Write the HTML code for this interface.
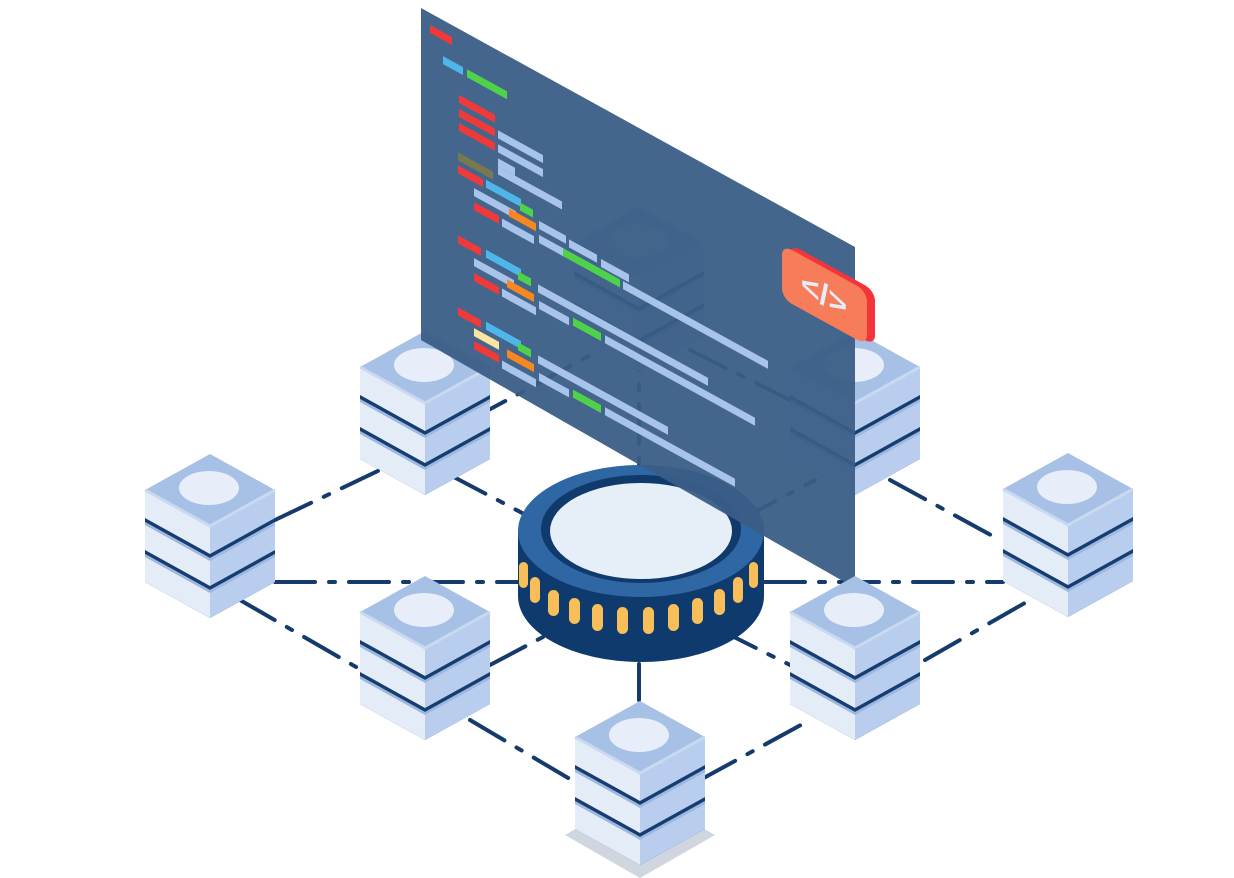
<!DOCTYPE html>
<html><head><meta charset="utf-8"><style>
html,body{margin:0;padding:0;background:#fff;width:1234px;height:878px;overflow:hidden}
svg{display:block}
</style></head><body>
<svg width="1234" height="878" viewBox="0 0 1234 878" xmlns="http://www.w3.org/2000/svg">
<defs>
<g id="srv">
  <polygon points="-65,0 0,36 65,0 65,92 0,128 -65,92" fill="#163d70"/>
  <g>
    <polygon points="-65,64 0,100 0,128 -65,92" fill="#e4ecf8"/>
    <polygon points="0,100 65,64 65,92 0,128" fill="#b9cdee"/>
    <polygon points="-65,64 0,100 65,64 65,67 0,103 -65,67" fill="#9db7df"/>
    <polygon points="-65,32 0,68 0,96 -65,60" fill="#e4ecf8"/>
    <polygon points="0,68 65,32 65,60 0,96" fill="#b9cdee"/>
    <polygon points="-65,32 0,68 65,32 65,35 0,71 -65,35" fill="#9db7df"/>
    <polygon points="-65,0 0,36 0,64 -65,28" fill="#e4ecf8"/>
    <polygon points="0,36 65,0 65,28 0,64" fill="#b9cdee"/>
  </g>
  <polygon points="0,-36 65,0 0,36 -65,0" fill="#a7c0e6"/>
  <polyline points="-65,0 0,36 65,0" fill="none" stroke="#c9d9f1" stroke-width="3"/>
  <ellipse cx="-1" cy="-2" rx="30" ry="17" fill="#e7eef9"/>
</g>
</defs>

<!-- dashed network lines -->
<g stroke="#153a6c" stroke-width="4" stroke-linecap="round" fill="none" stroke-dasharray="40 14 6 14">
  <line x1="275" y1="582" x2="520" y2="582"/>
  <line x1="765" y1="582" x2="1003" y2="582"/>
  <line x1="639" y1="330" x2="639" y2="466"/>
  <line x1="639" y1="664" x2="639" y2="700"/>
  <line x1="240" y1="600" x2="370" y2="675"/>
  <line x1="470" y1="720" x2="580" y2="785"/>
  <line x1="700" y1="780" x2="810" y2="720"/>
  <line x1="925" y1="660" x2="1030" y2="600"/>
  <line x1="890" y1="480" x2="1000" y2="540"/>
  <line x1="275" y1="520" x2="380" y2="470"/>
  <line x1="470" y1="420" x2="600" y2="350"/>
  <line x1="450" y1="475" x2="545" y2="525"/>
  <line x1="490" y1="665" x2="560" y2="628"/>
  <line x1="720" y1="630" x2="800" y2="670"/>
  <line x1="740" y1="520" x2="815" y2="480"/>
  <line x1="690" y1="350" x2="800" y2="405"/>
</g>

<!-- back servers -->
<use href="#srv" x="639" y="243"/>
<use href="#srv" x="425" y="367"/>
<use href="#srv" x="855" y="367"/>

<!-- hub -->
<path d="M518,531 L518,596 A123,66 0 0 0 764,596 L764,531 Z" fill="#0f3a6e"/>
<ellipse cx="641" cy="531" rx="123" ry="66" fill="#2f67a4"/>
<ellipse cx="641" cy="529" rx="100" ry="54" fill="#10396c"/>
<ellipse cx="641" cy="531" rx="91" ry="48" fill="#e6eef8"/>
<g fill="#f8be5a">
  <rect x="519" y="562" width="9" height="26" rx="4.5"/>
  <rect x="530" y="577" width="10" height="26" rx="5"/>
  <rect x="548" y="590" width="11" height="26" rx="5.5"/>
  <rect x="569" y="598" width="11" height="26" rx="5.5"/>
  <rect x="592" y="604" width="11" height="27" rx="5.5"/>
  <rect x="617" y="607" width="11" height="27" rx="5.5"/>
  <rect x="643" y="607" width="11" height="27" rx="5.5"/>
  <rect x="668" y="604" width="11" height="27" rx="5.5"/>
  <rect x="692" y="598" width="11" height="26" rx="5.5"/>
  <rect x="714" y="589" width="11" height="26" rx="5.5"/>
  <rect x="733" y="577" width="10" height="26" rx="5"/>
  <rect x="749" y="562" width="9" height="26" rx="4.5"/>
</g>

<!-- screen -->
<polygon points="421,8 855,247 855,588 421,340" fill="#3a5d86" opacity="0.95"/>
<g transform="matrix(1,0.55,0,1,421,8)">
  <g>
    <rect x="9" y="12" width="22" height="8" fill="#f03a3a"/>
    <rect x="22" y="36" width="20" height="8" fill="#4fb6ea"/>
    <rect x="46" y="36" width="40" height="8" fill="#4ed24a"/>
    <rect x="38" y="66" width="36" height="8" fill="#f03a3a"/>
    <rect x="38" y="80" width="36" height="8" fill="#f03a3a"/>
    <rect x="77" y="80" width="45" height="8" fill="#a9c4ea"/>
    <rect x="38" y="94" width="36" height="8" fill="#f03a3a"/>
    <rect x="77" y="94" width="45" height="8" fill="#a9c4ea"/>
    <rect x="77" y="108" width="17" height="8" fill="#a9c4ea"/>
    <rect x="77" y="116" width="64" height="8" fill="#a9c4ea"/>
    <rect x="37" y="124" width="35" height="8" fill="#7a7850"/>
    <rect x="37" y="137" width="25" height="8" fill="#f03a3a"/>
    <rect x="65" y="136" width="35" height="8" fill="#4fb6ea"/>
    <rect x="53" y="151" width="42" height="8" fill="#a9c4ea"/>
    <rect x="99" y="140" width="13" height="8" fill="#4ed24a"/>
    <rect x="53" y="165" width="25" height="8" fill="#f03a3a"/>
    <rect x="88" y="152" width="27" height="8" fill="#f7871e"/>
    <rect x="118" y="148" width="27" height="8" fill="#a9c4ea"/>
    <rect x="81" y="166" width="32" height="8" fill="#a9c4ea"/>
    <rect x="118" y="162" width="27" height="8" fill="#a9c4ea"/>
    <rect x="148" y="150" width="28" height="8" fill="#a9c4ea"/>
    <rect x="142" y="162" width="57" height="8" fill="#4ed24a"/>
    <rect x="180" y="152" width="28" height="8" fill="#a9c4ea"/>
    <rect x="202" y="162" width="145" height="8" fill="#a9c4ea"/>

    <rect x="37" y="207" width="23" height="8" fill="#f03a3a"/>
    <rect x="65" y="206" width="35" height="8" fill="#4fb6ea"/>
    <rect x="53" y="221" width="40" height="8" fill="#a9c4ea"/>
    <rect x="97" y="210" width="13" height="8" fill="#4ed24a"/>
    <rect x="53" y="236" width="25" height="8" fill="#f03a3a"/>
    <rect x="86" y="224" width="27" height="8" fill="#f7871e"/>
    <rect x="117" y="212" width="170" height="8" fill="#a9c4ea"/>
    <rect x="81" y="236" width="34" height="8" fill="#a9c4ea"/>
    <rect x="118" y="228" width="30" height="8" fill="#a9c4ea"/>
    <rect x="152" y="226" width="28" height="8" fill="#4ed24a"/>
    <rect x="184" y="226" width="150" height="8" fill="#a9c4ea"/>

    <rect x="37" y="279" width="23" height="8" fill="#f03a3a"/>
    <rect x="65" y="278" width="35" height="8" fill="#4fb6ea"/>
    <rect x="53" y="291" width="25" height="8" fill="#fde4a0"/>
    <rect x="97" y="281" width="13" height="8" fill="#4ed24a"/>
    <rect x="53" y="304" width="25" height="8" fill="#f03a3a"/>
    <rect x="86" y="294" width="27" height="8" fill="#f7871e"/>
    <rect x="117" y="283" width="130" height="8" fill="#a9c4ea"/>
    <rect x="81" y="308" width="34" height="8" fill="#a9c4ea"/>
    <rect x="118" y="300" width="30" height="8" fill="#a9c4ea"/>
    <rect x="152" y="298" width="28" height="8" fill="#4ed24a"/>
    <rect x="184" y="298" width="130" height="8" fill="#a9c4ea"/>
  </g>
  <!-- badge -->
  <rect x="369" y="33" width="85" height="55" rx="10" fill="#f5333b"/>
  <rect x="361" y="38" width="85" height="54" rx="10" fill="#f67c5a"/>
  <text x="403" y="76" text-anchor="middle" font-family="Liberation Sans, sans-serif" font-weight="bold" font-size="32" fill="#e6edf6">&lt;/&gt;</text>
</g>

<!-- front servers -->
<use href="#srv" x="210" y="490"/>
<use href="#srv" x="1068" y="489"/>
<use href="#srv" x="425" y="612"/>
<use href="#srv" x="855" y="612"/>
<polygon points="565,835 640,878 715,835 640,792" fill="#cfd6e0"/>
<use href="#srv" x="640" y="737"/>
</svg>
</body></html>
